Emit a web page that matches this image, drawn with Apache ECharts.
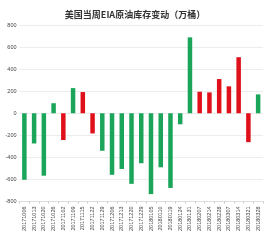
<!DOCTYPE html>
<html><head><meta charset="utf-8">
<script src="https://cdn.jsdelivr.net/npm/echarts@6/dist/echarts.min.js"></script>
<style>html,body{margin:0;padding:0;background:#fff}#c{width:270px;height:242px}</style>
</head><body><div id="c"></div>
<script>
var titleText = '美国当周EIA原油库存变动（万桶）';
var categories = ['20171006','20171013','20171020','20171026','20171102','20171109','20171115','20171122','20171129','20171206','20171213','20171220','20171229','20180105','20180110','20180119','20180124','20180131','20180207','20180214','20180228','20180307','20180314','20180321','20180328'];
var values = [-603,-274,-566,91,-243,228,192,-183,-340,-558,-505,-640,-453,-733,-490,-677,-100,688,195,189,310,244,508,-262,171];
var group = ['g','g','g','g','r','g','r','r','g','g','g','g','g','g','g','g','g','g','r','r','r','r','r','r','g'];
var yTicks = {min:-800, max:800, interval:200};

var greenData = values.map(function(v,i){return group[i]==='g'?v:'-';});
var redData = values.map(function(v,i){return group[i]==='r'?v:'-';});

var chart = echarts.init(document.getElementById('c'), null, {renderer:'canvas'});
chart.setOption({
  animation:false,
  title:{text:titleText, left:'center', top:5, textStyle:{fontSize:9, fontWeight:'bold', color:'#333', fontFamily:'Noto Sans CJK SC'}},
  grid:{left:19.5, right:7, top:25, bottom:40.5},
  xAxis:{type:'category', data:categories,
    axisLine:{show:true, onZero:false, lineStyle:{color:'#ddd'}},
    axisTick:{show:true, alignWithLabel:false, length:2, lineStyle:{color:'#ccc'}},
    axisLabel:{rotate:90, fontSize:5.5, color:'#444', interval:0, margin:5, fontFamily:'Liberation Sans'}},
  yAxis:{type:'value', min:yTicks.min, max:yTicks.max, interval:yTicks.interval,
    axisLine:{show:false}, axisTick:{show:false},
    splitLine:{lineStyle:{color:'#ececec'}},
    axisLabel:{fontSize:5.5, color:'#444', margin:3, fontFamily:'Liberation Sans'}},
  series:[
    {type:'bar', data:greenData, barWidth:4.5, barGap:'-100%', itemStyle:{color:'#1aa55a'}},
    {type:'bar', data:redData, barWidth:4.5, barGap:'-100%', itemStyle:{color:'#e0101a'}}
  ]
});
</script></body></html>
